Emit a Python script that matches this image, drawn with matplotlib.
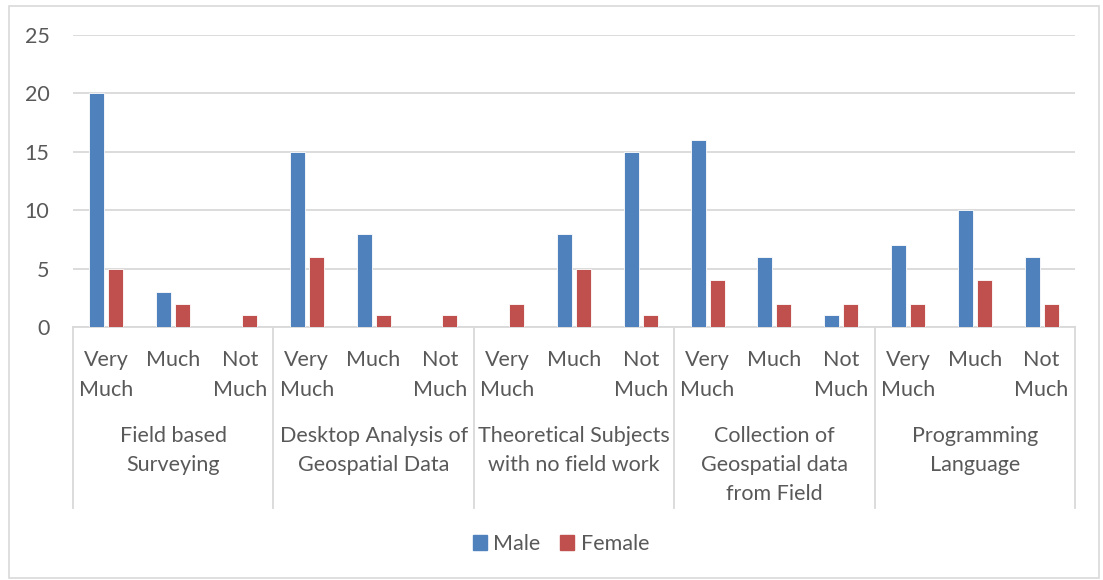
import matplotlib
matplotlib.use("Agg")
import matplotlib.pyplot as plt
from matplotlib.patches import Rectangle, Patch
from matplotlib.transforms import blended_transform_factory
import numpy as np

groups = ["Field based\nSurveying", "Desktop Analysis of\nGeospatial Data",
          "Theoretical Subjects\nwith no field work", "Collection of\nGeospatial data\nfrom Field",
          "Programming\nLanguage"]
levels = ["Very\nMuch", "Much", "Not\nMuch"]
male = [20, 3, 0, 15, 8, 0, 0, 8, 15, 16, 6, 1, 7, 10, 6]
female = [5, 2, 1, 6, 1, 1, 2, 5, 1, 4, 2, 2, 2, 4, 2]
yticks = [0, 5, 10, 15, 20, 25]

plt.rcParams['font.family'] = ['Lato', 'DejaVu Sans']
BLUE = "#4F81BD"
RED = "#C0504D"
GRID = "#D9D9D9"
TXT = "#595959"
FS = 15.5

fig = plt.figure(figsize=(11.03, 5.80), dpi=100)
W, H = 1103, 580
L, R, B, T = 73, 1075, 327, 35
ax = fig.add_axes([L / W, 1 - B / H, (R - L) / W, (B - T) / H])

n = len(male)
x = np.arange(n)
bw = 0.225
off = 0.142
ax.bar(x - off, male, bw, color=BLUE, edgecolor="white", linewidth=0.6, label="Male", zorder=3)
ax.bar(x + off, female, bw, color=RED, edgecolor="white", linewidth=0.6, label="Female", zorder=3)

ax.set_xlim(-0.5, n - 0.5)
ax.set_ylim(0, 25)
ax.set_yticks(yticks)
ax.tick_params(axis='y', length=0, pad=17, labelsize=FS, labelcolor=TXT)
ax.set_xticks([])
ax.grid(axis='y', color=GRID, linewidth=1.3, zorder=0)
for s in ["left", "right", "top"]:
    ax.spines[s].set_visible(False)
ax.spines["bottom"].set_color(GRID)
ax.spines["bottom"].set_linewidth(1.3)

tr = blended_transform_factory(ax.transData, ax.transAxes)
ph = B - T
for i in range(n):
    ax.text(i, (B - 349.5) / ph, levels[i % 3], transform=tr, ha='center', va='top',
            fontsize=FS, color=TXT, linespacing=1.65)
for g, name in enumerate(groups):
    ax.text(3 * g + 1, (B - 426) / ph, name, transform=tr, ha='center', va='top',
            fontsize=FS, color=TXT, linespacing=1.57)
for g in range(len(groups) + 1):
    ax.plot([3 * g - 0.5, 3 * g - 0.5], [0, (B - 508) / ph], transform=tr,
            color=GRID, linewidth=1.3, clip_on=False)

handles = [Patch(color=BLUE, label="Male"), Patch(color=RED, label="Female")]
fig.legend(handles=handles, loc='center', bbox_to_anchor=(561 / W, 1 - 544 / H), ncol=2,
           frameon=False, handlelength=0.65, handleheight=0.65, handletextpad=0.3,
           columnspacing=0.9, prop={'size': FS}, labelcolor=TXT)

fig.patches.append(Rectangle((9 / W, 2 / H), (1099 - 9) / W, (574 - 2) / H,
                             transform=fig.transFigure, fill=False, edgecolor=GRID,
                             linewidth=1.2))

fig.savefig("out.png", dpi=100)
